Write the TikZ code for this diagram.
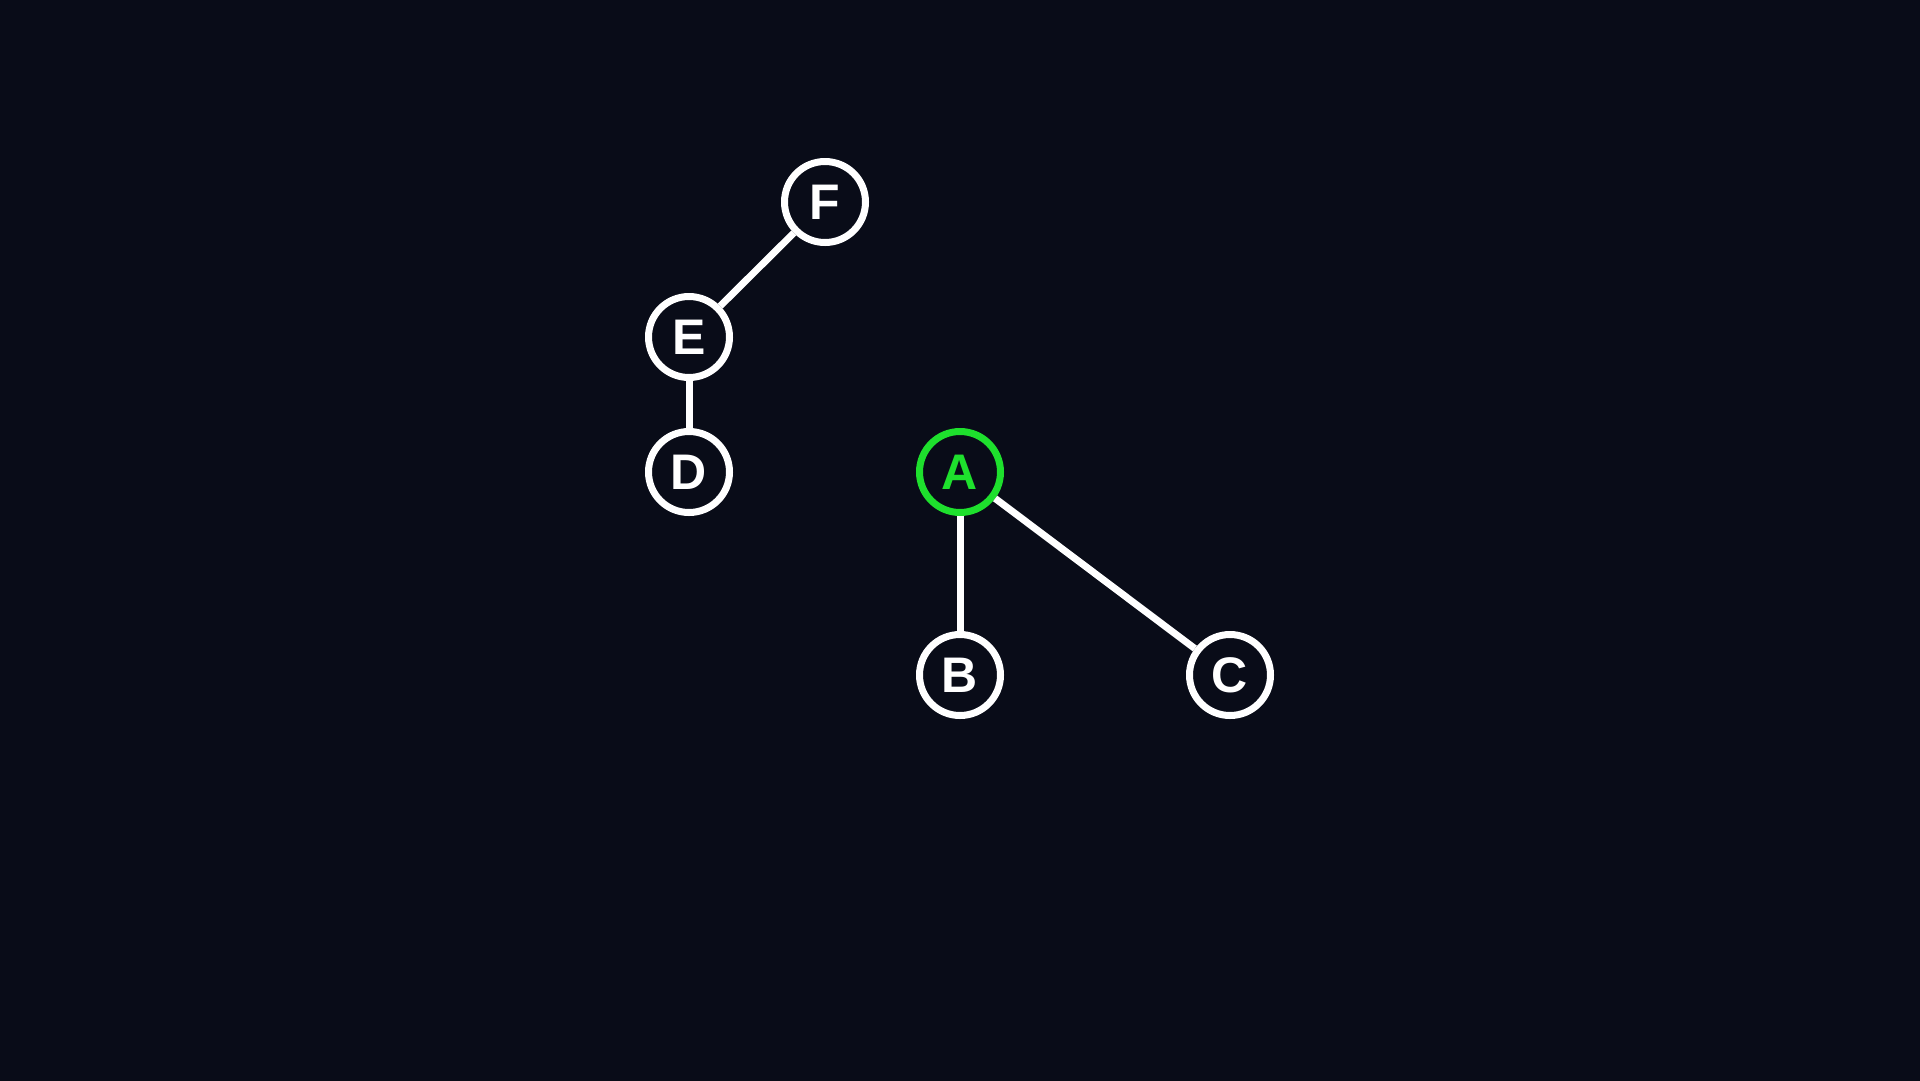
\documentclass[tikz,border=0pt]{standalone}
\usepackage{fontspec}
\setmainfont{Liberation Sans}
\definecolor{bgc}{RGB}{9,12,24}
\definecolor{hlgreen}{RGB}{30,224,45}
\begin{document}
\begin{tikzpicture}[x=1pt,y=-1pt,
  vert/.style={circle,draw=white,line width=7pt,minimum size=81pt,inner sep=0pt,
    text=white,font=\fontsize{50}{50}\selectfont\bfseries},
  hl/.style={draw=hlgreen,text=hlgreen},
  edge/.style={draw=white,line width=7pt}]
\useasboundingbox (0,0) rectangle (1920,1080);
\fill[bgc] (-5,-5) rectangle (1925,1085);
\node[vert,hl] (A) at (960,472) {A};
\node[vert] (B) at (960,675) {B};
\node[vert] (C) at (1230,675) {C};
\node[vert] (D) at (689,472) {D};
\node[vert] (E) at (689,337) {E};
\node[vert] (F) at (825,202) {F};
\draw[edge] (A) -- (B);
\draw[edge] (A) -- (C);
\draw[edge] (E) -- (D);
\draw[edge] (E) -- (F);
\end{tikzpicture}
\end{document}
